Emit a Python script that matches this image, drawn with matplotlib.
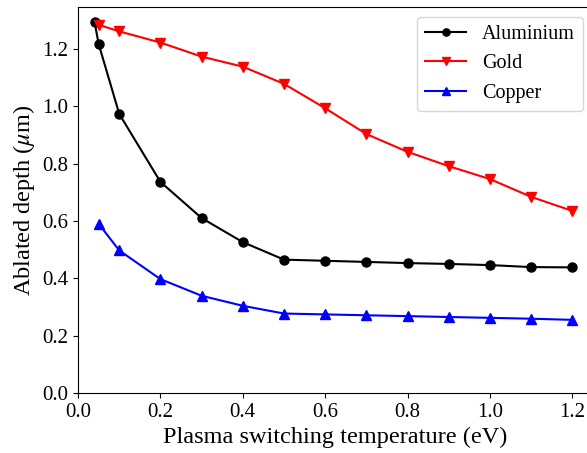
import matplotlib.pyplot as plt

plt.rcParams['font.family'] = 'Liberation Serif'
plt.rcParams['mathtext.fontset'] = 'stix'

temp_al = [0.04, 0.05, 0.1, 0.2, 0.3, 0.4, 0.5, 0.6, 0.7, 0.8, 0.9, 1.0, 1.1, 1.2]
depth_al = [1.294, 1.217, 0.973, 0.736, 0.610, 0.526, 0.465, 0.461, 0.457, 0.453, 0.450, 0.446, 0.439, 0.438]

temp = [0.05, 0.1, 0.2, 0.3, 0.4, 0.5, 0.6, 0.7, 0.8, 0.9, 1.0, 1.1, 1.2]
depth_au = [1.284, 1.261, 1.222, 1.173, 1.138, 1.078, 0.993, 0.903, 0.841, 0.791, 0.746, 0.684, 0.635]
depth_cu = [0.590, 0.497, 0.397, 0.339, 0.304, 0.277, 0.274, 0.271, 0.268, 0.265, 0.262, 0.259, 0.255]

fig = plt.figure(figsize=(5.87, 4.53), dpi=100)
ax = fig.add_axes([0.133, 0.1325, 0.877, 0.852])
ax.plot(temp_al, depth_al, color='black', marker='o', markersize=6.5, lw=1.5, label='Aluminium')
ax.plot(temp, depth_au, color='red', marker='v', markersize=6.5, lw=1.5, label='Gold')
ax.plot(temp, depth_cu, color='blue', marker='^', markersize=6.5, lw=1.5, label='Copper')
ax.set_ylim(bottom=0)
ax.set_xlim(0, 1.25)
ax.set_xticks([0.0, 0.2, 0.4, 0.6, 0.8, 1.0, 1.2])
ax.set_xlabel('Plasma switching temperature (eV)', fontsize=17.5)
ax.set_ylabel(r'Ablated depth ($\mu$m)', fontsize=17.5)
ax.tick_params(labelsize=15)
ax.legend(loc='upper right', fontsize=14.5, markerscale=0.8)
fig.savefig('out.png', dpi=100)
